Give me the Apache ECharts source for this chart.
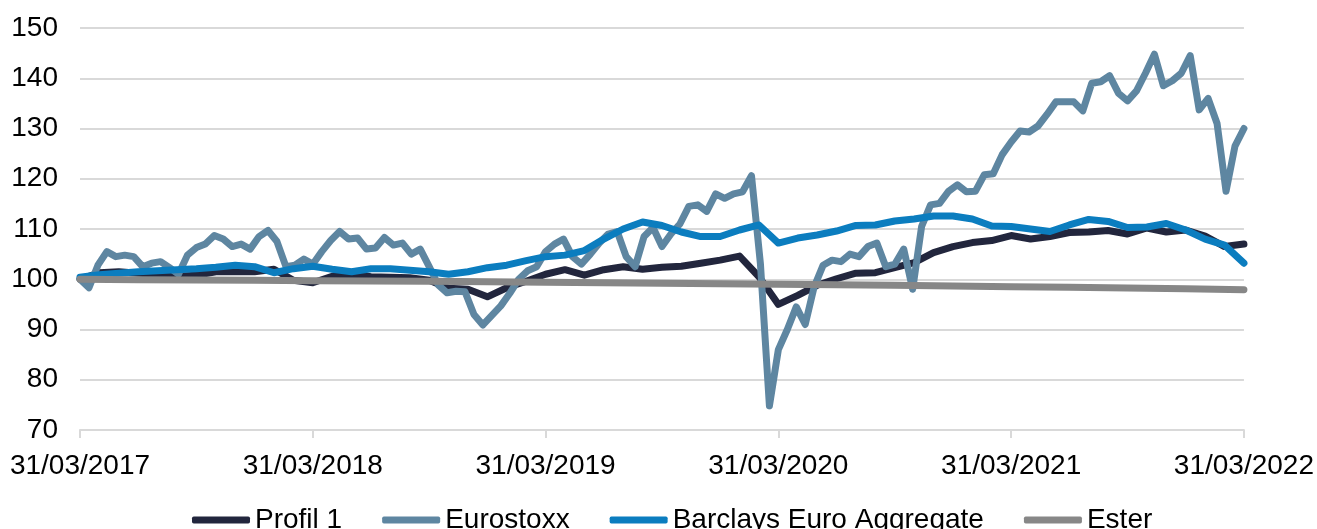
<!DOCTYPE html>
<html>
<head>
<meta charset="utf-8">
<script src="https://cdn.jsdelivr.net/npm/echarts@6/dist/echarts.min.js"></script>
<style>
  html, body { margin: 0; padding: 0; background: #fff; }
  #main { width: 1317px; height: 529px; }
</style>
</head>
<body>
<div id="main"></div>
<script>
var tickLabels = ['31/03/2017', '31/03/2018', '31/03/2019', '31/03/2020', '31/03/2021', '31/03/2022'];
var seriesNames = ['Profil 1', 'Eurostoxx', 'Barclays Euro Aggregate', 'Ester'];

// Eurostoxx, every two weeks from 31/03/2017
var eurostoxx = [
    100.0, 98.3, 102.8, 105.5, 104.5, 104.8, 104.5, 102.5, 103.2, 103.5,
    102.3, 101.0, 104.8, 106.3, 107.0, 108.7, 108.0, 106.5, 107.0, 106.0,
    108.5, 109.7, 107.5, 102.5, 102.8, 104.0, 103.0, 105.5, 107.7, 109.5,
    108.0, 108.2, 106.0, 106.2, 108.3, 106.8, 107.2, 105.0, 106.0, 102.5,
    98.9, 97.3, 97.6, 97.5, 93.0, 90.9, 92.8, 94.7, 97.2, 100.0,
    101.7, 102.5, 105.5, 107.0, 108.0, 104.5, 103.0, 105.0, 107.2, 109.0,
    109.5, 104.5, 102.5, 108.5, 110.3, 106.5, 109.0, 111.0, 114.5, 114.8,
    113.5, 117.0, 116.1, 117.0, 117.4, 120.6, 103.0, 74.8, 86.0, 90.0,
    94.5, 91.0, 98.5, 102.8, 103.8, 103.5, 105.0, 104.5, 106.5, 107.2,
    102.5, 103.0, 106.0, 98.0, 110.5, 114.8, 115.1, 117.5, 118.8, 117.4,
    117.5, 120.8, 121.0, 124.8, 127.3, 129.5, 129.3, 130.5, 132.8, 135.3,
    135.3, 135.3, 133.5, 139.0, 139.3, 140.5, 137.0, 135.5, 137.5, 141.0,
    144.8, 138.5, 139.5, 141.0, 144.5, 133.7, 136.0, 131.0, 117.5, 126.5,
    130.0
];

// monthly
var profil1 = [
    100.0, 101.3, 101.5, 101.2, 101.0, 100.6, 100.8, 101.5, 101.5, 101.5,
    102.0, 99.8, 99.3, 100.6, 101.0, 100.5, 100.4, 100.3, 99.8, 98.2,
    98.0, 96.5, 98.3, 99.6, 101.0, 101.9, 100.8, 101.9, 102.5, 102.0,
    102.4, 102.6, 103.2, 103.8, 104.6, 100.5, 95.0, 96.8, 98.8, 100.1,
    101.2, 101.3, 102.3, 103.3, 105.3, 106.5, 107.3, 107.7, 108.7, 108.0,
    108.5, 109.3, 109.4, 109.7, 109.0, 110.2, 109.4, 109.8, 108.6, 106.5,
    107.0
];

var barclays = [
    100.4, 100.9, 101.2, 101.5, 101.7, 101.9, 102.1, 102.4, 102.8, 102.5,
    101.3, 102.1, 102.6, 102.0, 101.5, 102.1, 102.1, 101.8, 101.5, 101.0,
    101.5, 102.3, 102.8, 103.7, 104.5, 104.8, 105.7, 108.0, 110.0, 111.4,
    110.7, 109.4, 108.5, 108.5, 109.8, 110.8, 107.2, 108.2, 108.8, 109.6,
    110.7, 110.8, 111.6, 112.0, 112.6, 112.6, 112.0, 110.6, 110.5, 110.0,
    109.5, 110.8, 111.9, 111.5, 110.3, 110.4, 111.1, 109.8, 108.0, 106.8,
    103.2
];

// quarterly
var ester = [
    100.0, 99.9, 99.85, 99.8, 99.7, 99.65, 99.6, 99.5, 99.4, 99.3,
    99.2, 99.1, 99.0, 98.9, 98.8, 98.65, 98.5, 98.4, 98.25, 98.1,
    97.9
];

var colors = ['#22263d', '#5e86a1', '#0b7dbf', '#878787'];

function toPoints(arr) {
    var step = (tickLabels.length - 1) / (arr.length - 1);
    return arr.map(function (v, i) { return [i * step, v]; });
}

var fontFamily = '"Liberation Sans", Arial, sans-serif';
var chart = echarts.init(document.getElementById('main'));

function lineSeries(name, arr, color) {
    return {
        name: name,
        type: 'line',
        data: toPoints(arr),
        symbol: 'none',
        showSymbol: false,
        lineStyle: { color: color, width: 7, cap: 'round', join: 'round' },
        itemStyle: { color: color },
        animation: false
    };
}

chart.setOption({
    animation: false,
    color: colors,
    grid: { left: 80, right: 72, top: 28, bottom: 99 },
    legend: {
        left: 187,
        top: 501,
        itemWidth: 58,
        itemHeight: 7,
        itemGap: 40,
        icon: 'roundRect',
        textStyle: { fontFamily: fontFamily, fontSize: 28, color: '#000' },
        data: seriesNames
    },
    xAxis: {
        type: 'value',
        min: 0,
        max: 5,
        interval: 1,
        axisLine: { lineStyle: { color: '#d9d9d9', width: 2 } },
        axisTick: { show: true, length: 8, lineStyle: { color: '#d9d9d9', width: 2 } },
        splitLine: { show: false },
        axisLabel: {
            fontFamily: fontFamily,
            fontSize: 28,
            color: '#000',
            margin: 22,
            formatter: function (v) { return tickLabels[v] || ''; }
        }
    },
    yAxis: {
        type: 'value',
        min: 70,
        max: 150,
        interval: 10,
        axisLine: { show: false },
        axisTick: { show: false },
        splitLine: { lineStyle: { color: '#d9d9d9', width: 2 } },
        axisLabel: { fontFamily: fontFamily, fontSize: 28, color: '#000', margin: 22 }
    },
    series: [
        lineSeries(seriesNames[0], profil1, colors[0]),
        lineSeries(seriesNames[1], eurostoxx, colors[1]),
        lineSeries(seriesNames[2], barclays, colors[2]),
        lineSeries(seriesNames[3], ester, colors[3])
    ]
});
</script>
</body>
</html>
